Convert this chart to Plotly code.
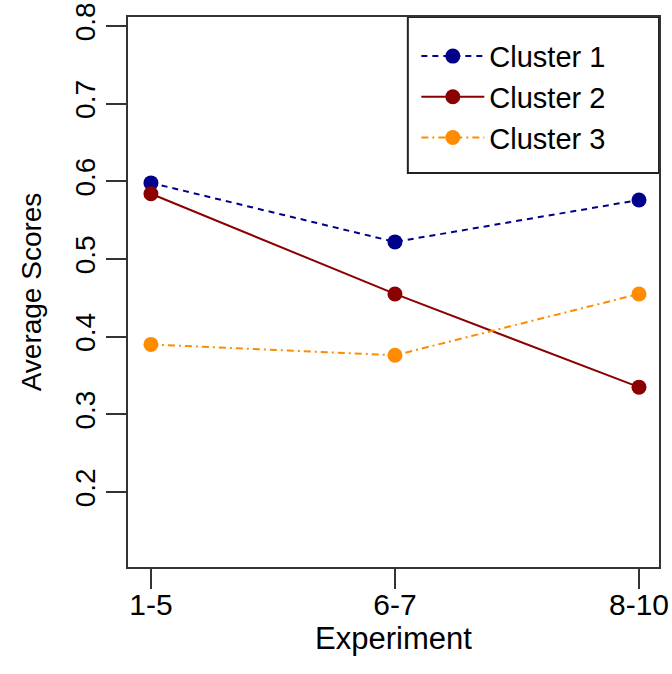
import plotly.graph_objects as go

experiments = ["1-5", "6-7", "8-10"]
cluster1 = [0.598, 0.522, 0.576]
cluster2 = [0.584, 0.455, 0.335]
cluster3 = [0.390, 0.376, 0.455]
y_ticks = [0.2, 0.3, 0.4, 0.5, 0.6, 0.7, 0.8]

FONT = "Liberation Sans, Arial, sans-serif"
xpos = [1, 2, 3]

fig = go.Figure()
series = [
    ("Cluster 1", cluster1, "#00008B", "6px,5px"),
    ("Cluster 2", cluster2, "#8B0000", "solid"),
    ("Cluster 3", cluster3, "#FF8C00", "7px,4px,2px,4px"),
]
for name, vals, color, dash in series:
    fig.add_trace(go.Scatter(
        x=xpos, y=vals, name=name, mode="lines+markers",
        line=dict(color=color, width=2, dash=dash),
        marker=dict(color=color, size=15),
    ))

axis_common = dict(
    showline=True, linecolor="#333", linewidth=2, mirror=True,
    ticks="outside", ticklen=20, tickwidth=2, tickcolor="#333",
    showgrid=False, zeroline=False, automargin=False,
    ticklabeloverflow="allow",
)

fig.update_layout(
    width=672, height=674,
    margin=dict(l=128, r=13, t=17, b=107),
    paper_bgcolor="white", plot_bgcolor="white",
    font=dict(family=FONT, size=30, color="black"),
    xaxis=dict(
        range=[0.906, 3.082], tickvals=xpos, ticktext=experiments,
        tickfont=dict(family=FONT, size=30, color="black"),
        ticklabelstandoff=-10,
        title=dict(text="Experiment", font=dict(family=FONT, size=31), standoff=6),
        **axis_common,
    ),
    yaxis=dict(
        range=[0.1034, 0.8116], tickvals=y_ticks, tickangle=-90,
        tickfont=dict(family=FONT, size=28, color="black"),
        title=dict(text="Average Scores", font=dict(family=FONT, size=28), standoff=20),
        **axis_common,
    ),
    legend=dict(
        x=0.543, y=0.975, xanchor="left", yanchor="top",
        borderwidth=0, bgcolor="rgba(0,0,0,0)",
        font=dict(family=FONT, size=29),
        itemwidth=63,
    ),
    shapes=[dict(
        type="rect", xref="paper", yref="paper",
        x0=0.527, x1=1.0, y0=0.7164, y1=1.0,
        line=dict(color="#222", width=2), fillcolor="white", layer="below",
    )],
)

# drop the default 8px body margin so the figure sits flush in the window
fig.write_html("out.html", config={"displayModeBar": False},
               post_script="document.body.style.margin='0';")
